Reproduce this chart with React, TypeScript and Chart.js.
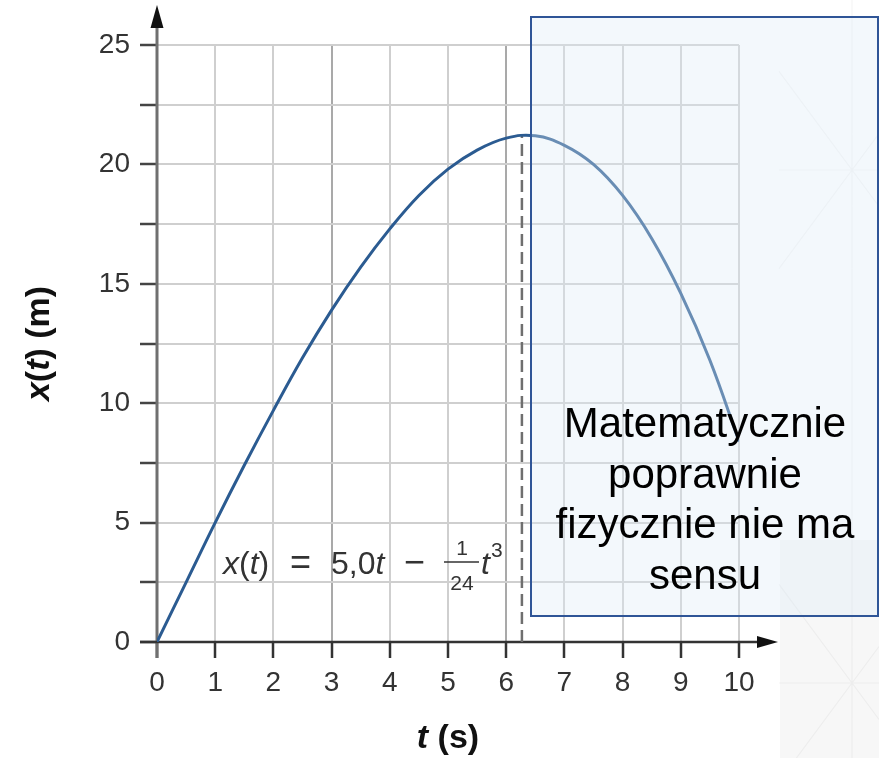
import React, { useEffect, useRef } from 'react';
import { Chart, registerables } from 'chart.js';

Chart.register(...registerables);

const FONT = "'Liberation Sans', Arial, Helvetica, sans-serif";
const EQ_FONT = "'Liberation Sans', Arial, sans-serif";

// ---- data ----
const timeValues = [0, 0.5, 1, 1.5, 2, 2.5, 3, 3.5, 4, 4.5, 5, 5.5, 6, 6.5, 7, 7.5, 8, 8.5, 9, 9.5, 10];
const positionValues = [0, 2.5, 5.0, 7.4, 9.7, 11.9, 13.9, 15.7, 17.3, 18.7, 19.8, 20.6, 21.1, 21.2, 20.8, 20.0, 18.7, 16.9, 14.6, 11.8, 8.4];

const peakTimes = [6.27, 6.27];
const peakMarkerValues = [0, 21.25];

const xRange = [0, 10];
const xTickStep = 1;
const yRange = [0, 25];
const yTickStep = 2.5;
const yLabelStep = 5;
const darkGridTimes = [3, 6];

const xTitleParts: [string, boolean][] = [['t', true], [' (s)', false]];
const yTitleParts: [string, boolean][] = [['x', true], ['(', false], ['t', true], [') (m)', false]];
const noteLines = ['Matematycznie', 'poprawnie', 'fizycznie nie ma', 'sensu'];
const eqLeft: [string, boolean][] = [['x', true], ['(', false], ['t', true], [')', false]];
const eqEquals = '=';
const eqCoef: [string, boolean][] = [['5,0', false], ['t', true]];
const eqMinus = '−';
const eqFraction = ['1', '24'];
const eqTail = 't';
const eqPower = '3';

function font(size: number, bold: boolean, italic: boolean, family = FONT) {
  return `${italic ? 'italic ' : ''}${bold ? 'bold ' : ''}${size}px ${family}`;
}

function drawParts(ctx: CanvasRenderingContext2D, parts: [string, boolean][], size: number, bold: boolean, cx: number, cy: number) {
  let total = 0;
  const widths = parts.map(([t, it]) => {
    ctx.font = font(size, bold, it);
    const w = ctx.measureText(t).width;
    total += w;
    return w;
  });
  let x = cx - total / 2;
  ctx.textAlign = 'left';
  ctx.textBaseline = 'middle';
  parts.forEach(([t, it], i) => {
    ctx.font = font(size, bold, it);
    ctx.fillText(t, x, cy);
    x += widths[i];
  });
}

function drawRun(ctx: CanvasRenderingContext2D, parts: [string, boolean][], size: number, x: number, y: number) {
  ctx.textAlign = 'left';
  parts.forEach(([t, it]) => {
    ctx.font = font(size, false, it, EQ_FONT);
    ctx.fillText(t, x, y);
    x += ctx.measureText(t).width;
  });
  return x;
}

const decorPlugin = {
  id: 'decor',
  beforeDraw(chart: any) {
    const ctx: CanvasRenderingContext2D = chart.ctx;
    const W = chart.width, H = chart.height;
    ctx.save();
    ctx.fillStyle = '#ffffff';
    ctx.fillRect(0, 0, W, H);
    ctx.fillStyle = '#f7f7f7';
    ctx.fillRect(780, 540, W - 780, H - 540);
    ctx.strokeStyle = 'rgba(0,0,0,0.04)';
    ctx.lineWidth = 1.2;
    const cx = 852;
    ctx.beginPath();
    ctx.moveTo(cx, 0); ctx.lineTo(cx, H);
    [170, 683].forEach((cy) => {
      ctx.moveTo(779, cy); ctx.lineTo(W, cy);
      const s = 1.35;
      ctx.moveTo(779, cy - 73 * s); ctx.lineTo(W, cy + (W - cx) * s);
      ctx.moveTo(779, cy + 73 * s); ctx.lineTo(W, cy - (W - cx) * s);
    });
    ctx.stroke();
    ctx.restore();
  },
  beforeDatasetsDraw(chart: any) {
    const ctx: CanvasRenderingContext2D = chart.ctx;
    const { chartArea, scales } = chart;
    const x0 = scales.x.getPixelForValue(0);
    const y0 = scales.y.getPixelForValue(0);
    ctx.save();
    ctx.strokeStyle = '#707070';
    ctx.lineWidth = 3;
    ctx.beginPath();
    ctx.moveTo(x0, y0 + 16);
    ctx.lineTo(x0, chartArea.top - 20);
    ctx.stroke();
    ctx.fillStyle = '#111111';
    ctx.beginPath();
    ctx.moveTo(x0, chartArea.top - 40);
    ctx.lineTo(x0 - 6.5, chartArea.top - 17);
    ctx.lineTo(x0 + 6.5, chartArea.top - 17);
    ctx.closePath();
    ctx.fill();
    ctx.strokeStyle = '#333333';
    ctx.lineWidth = 2.5;
    ctx.beginPath();
    ctx.moveTo(x0 - 17, y0);
    ctx.lineTo(chartArea.right + 22, y0);
    ctx.stroke();
    ctx.beginPath();
    ctx.moveTo(chartArea.right + 39, y0);
    ctx.lineTo(chartArea.right + 18, y0 - 6);
    ctx.lineTo(chartArea.right + 18, y0 + 6);
    ctx.closePath();
    ctx.fill();
    ctx.restore();
  },
  afterDraw(chart: any) {
    const ctx: CanvasRenderingContext2D = chart.ctx;
    const { chartArea } = chart;
    ctx.save();
    // axis titles
    ctx.fillStyle = '#111111';
    drawParts(ctx, xTitleParts, 34, true, (chartArea.left + chartArea.right) / 2, 739);
    ctx.save();
    ctx.translate(40, (chartArea.top + chartArea.bottom) / 2);
    ctx.rotate(-Math.PI / 2);
    drawParts(ctx, yTitleParts, 34, true, 0, 0);
    ctx.restore();

    // equation
    ctx.fillStyle = '#333333';
    ctx.textBaseline = 'alphabetic';
    const base = 574;
    const EQ = 32;
    drawRun(ctx, eqLeft, EQ, 223, base);
    ctx.font = font(36, false, false, EQ_FONT);
    ctx.textAlign = 'left';
    ctx.fillText(eqEquals, 290, base);
    drawRun(ctx, eqCoef, EQ, 331, base);
    ctx.font = font(36, false, false, EQ_FONT);
    ctx.textAlign = 'left';
    ctx.fillText(eqMinus, 404, base);
    ctx.textAlign = 'center';
    ctx.font = font(21, false, false, EQ_FONT);
    ctx.fillText(eqFraction[0], 462, 555);
    ctx.fillText(eqFraction[1], 462, 590);
    ctx.strokeStyle = '#333333';
    ctx.lineWidth = 1.6;
    ctx.beginPath();
    ctx.moveTo(444, 562);
    ctx.lineTo(479, 562);
    ctx.stroke();
    ctx.textAlign = 'left';
    ctx.font = font(EQ, false, true, EQ_FONT);
    ctx.fillText(eqTail, 481, base);
    const tw = ctx.measureText(eqTail).width;
    ctx.font = font(21, false, false, EQ_FONT);
    ctx.fillText(eqPower, 481 + tw + 1, 557);

    // note box
    ctx.fillStyle = 'rgba(222,235,247,0.35)';
    ctx.fillRect(531, 17, 347, 599);
    ctx.strokeStyle = '#2f5597';
    ctx.lineWidth = 2;
    ctx.strokeRect(531, 17, 347, 599);
    ctx.fillStyle = '#000000';
    ctx.textAlign = 'center';
    ctx.textBaseline = 'alphabetic';
    ctx.font = font(42, false, false);
    noteLines.forEach((line, i) => {
      ctx.fillText(line, 705, 437 + i * 50.5);
    });
    ctx.restore();
  },
};

export default function App() {
  const ref = useRef<HTMLCanvasElement | null>(null);
  useEffect(() => {
    if (!ref.current) return;
    Chart.defaults.font.family = FONT;
    const chart = new Chart(ref.current, {
      type: 'line',
      data: {
        datasets: [
          {
            data: timeValues.map((t, i) => ({ x: t, y: positionValues[i] })),
            borderColor: '#2b5b91',
            borderWidth: 3,
            pointRadius: 0,
            tension: 0.4,
            fill: false,
          },
          {
            data: peakTimes.map((t, i) => ({ x: t, y: peakMarkerValues[i] })),
            borderColor: '#6f6f6f',
            borderWidth: 2.5,
            borderDash: [12, 6],
            pointRadius: 0,
            fill: false,
          },
        ],
      },
      plugins: [decorPlugin],
      options: {
        responsive: false,
        animation: false,
        events: [],
        layout: { padding: { top: 45, right: 140, left: 0, bottom: 0 } },
        plugins: { legend: { display: false }, tooltip: { enabled: false } },
        scales: {
          x: {
            type: 'linear',
            min: xRange[0],
            max: xRange[1],
            afterFit: (s: any) => { s.height = 116; },
            ticks: {
              stepSize: xTickStep,
              color: '#333333',
              padding: 8,
              font: { size: 28, family: FONT },
              maxRotation: 0,
            },
            grid: {
              color: (c: any) => (darkGridTimes.includes(c.tick?.value) ? '#a9a9a9' : '#cfcfcf'),
              lineWidth: 2,
              tickColor: '#333333',
              tickLength: 16,
              tickWidth: 2.5,
            },
            border: { display: false },
          },
          y: {
            type: 'linear',
            min: yRange[0],
            max: yRange[1],
            afterFit: (s: any) => { s.width = 157; },
            ticks: {
              stepSize: yTickStep,
              color: '#333333',
              padding: 10,
              font: { size: 28, family: FONT },
              callback: (v: any) => (Number(v) % yLabelStep === 0 ? String(v) : ''),
            },
            grid: {
              color: '#cfcfcf',
              lineWidth: 2,
              tickColor: '#444444',
              tickLength: 17,
              tickWidth: 2.5,
            },
            border: { display: false },
          },
        },
      },
    } as any);
    return () => chart.destroy();
  }, []);
  return (
    <canvas
      ref={ref}
      width={879}
      height={758}
      style={{ position: 'absolute', left: 0, top: 0, display: 'block' }}
    />
  );
}
